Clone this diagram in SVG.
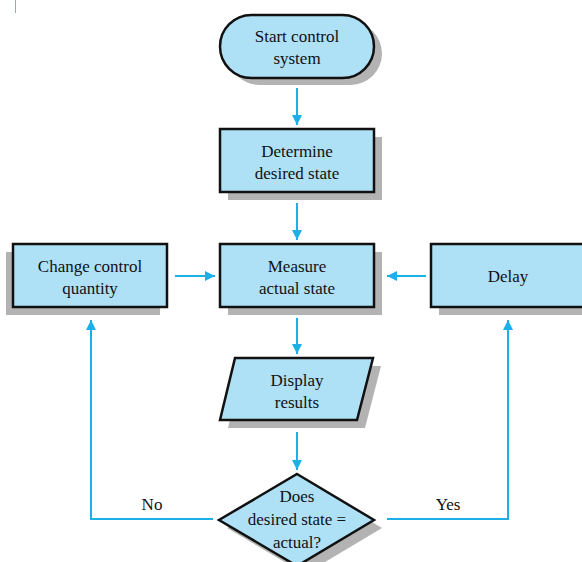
<svg xmlns="http://www.w3.org/2000/svg" width="582" height="562" viewBox="0 0 582 562">
<style>
.shape{fill:#aee0f6;stroke:#111;stroke-width:2.5}
.shadow{fill:#b3b3b3}
.lbl{font-family:"Liberation Serif","Times New Roman",serif;font-size:17px;fill:#111;text-anchor:middle}
.conn{fill:none;stroke:#1cb0e8;stroke-width:2}
</style>
<defs>
<marker id="ah" viewBox="0 0 10 10" refX="10" refY="5" markerWidth="5.5" markerHeight="5" markerUnits="strokeWidth" orient="auto">
<path d="M0,0 L10,5 L0,10 z" fill="#1cb0e8"/>
</marker>
</defs>
<rect width="582" height="562" fill="#fff"/>
<line x1="15.5" y1="0" x2="15.5" y2="13" stroke="#9aa8b0" stroke-width="1"/>
<g id="connectors">
<line class="conn" x1="297" y1="88" x2="297" y2="125" marker-end="url(#ah)"/>
<line class="conn" x1="297" y1="203" x2="297" y2="240" marker-end="url(#ah)"/>
<line class="conn" x1="297" y1="318" x2="297" y2="354" marker-end="url(#ah)"/>
<line class="conn" x1="297" y1="432" x2="297" y2="470" marker-end="url(#ah)"/>
<line class="conn" x1="175" y1="276" x2="215" y2="276" marker-end="url(#ah)"/>
<line class="conn" x1="426" y1="276" x2="387" y2="276" marker-end="url(#ah)"/>
<polyline class="conn" points="213,519 91,519 91,320" marker-end="url(#ah)"/>
<polyline class="conn" points="387,519 508,519 508,320" marker-end="url(#ah)"/>
<text class="lbl" x="152" y="510">No</text>
<text class="lbl" x="448" y="510">Yes</text>
</g>
<g id="start">
<rect class="shadow" x="228" y="22" width="154" height="63" rx="31.5"/>
<rect class="shape" x="220" y="15" width="154" height="63" rx="31.5"/>
<text class="lbl" x="297" y="42">Start control</text>
<text class="lbl" x="297" y="64">system</text>
</g>
<g id="determine">
<rect class="shadow" x="228" y="137" width="154" height="63"/>
<rect class="shape" x="220" y="129" width="154" height="63"/>
<text class="lbl" x="297" y="157">Determine</text>
<text class="lbl" x="297" y="179">desired state</text>
</g>
<g id="measure">
<rect class="shadow" x="228" y="252" width="154" height="63"/>
<rect class="shape" x="220" y="244" width="154" height="63"/>
<text class="lbl" x="297" y="272">Measure</text>
<text class="lbl" x="297" y="294">actual state</text>
</g>
<g id="change">
<rect class="shadow" x="6" y="252" width="154" height="63"/>
<rect class="shape" x="13" y="244" width="154" height="63"/>
<text class="lbl" x="90" y="272">Change control</text>
<text class="lbl" x="90" y="294">quantity</text>
</g>
<g id="delay">
<rect class="shadow" x="439" y="252" width="160" height="63"/>
<rect class="shape" x="431" y="244" width="160" height="63"/>
<text class="lbl" x="508" y="282">Delay</text>
</g>
<g id="display">
<polygon class="shadow" points="243,366 381,366 365,428 228,428"/>
<polygon class="shape" points="235,358 373,358 357,420 220,420"/>
<text class="lbl" x="297" y="386">Display</text>
<text class="lbl" x="297" y="408">results</text>
</g>
<g id="decision">
<polygon class="shadow" points="305,482 382,528 305,574 227,528"/>
<polygon class="shape" points="297,474 374,520 297,566 219,520"/>
<text class="lbl" x="297" y="502">Does</text>
<text class="lbl" x="297" y="525">desired state =</text>
<text class="lbl" x="297" y="548">actual?</text>
</g>
</svg>
